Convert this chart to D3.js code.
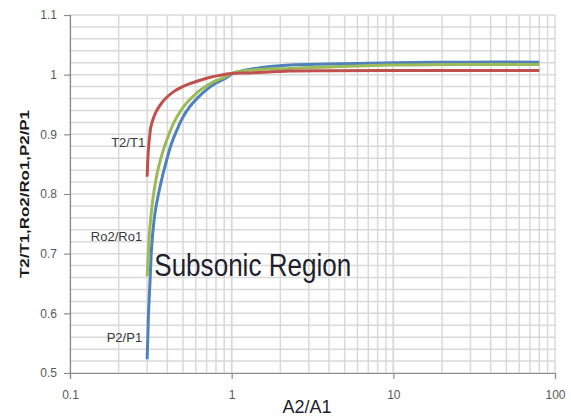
<!DOCTYPE html>
<html lang="en">
<head>
<meta charset="UTF-8">
<title>Subsonic Region</title>
<style>
  body { margin: 0; background: #fff; }
  text { font-family: "Liberation Sans Narrow", "Liberation Sans", sans-serif; }
</style>
</head>
<body>
<svg width="571" height="416"></svg>
<script src="https://cdn.jsdelivr.net/npm/d3@7"></script>
<script>

    // values (x = A2/A1, log scale)
    var t2t1X = [0.3, 0.305, 0.311, 0.316, 0.33, 0.344, 0.37, 0.4, 0.44, 0.48, 0.54, 0.61, 0.7, 0.81, 1, 1.3, 2.3, 4, 10, 30, 80];
    var t2t1Y = [0.829, 0.872, 0.897, 0.912, 0.929, 0.94, 0.953, 0.963, 0.972, 0.978, 0.984, 0.989, 0.994, 0.998, 1.002, 1.003, 1.006, 1.0065, 1.007, 1.007, 1.007];

    var ro2ro1X = [0.3, 0.305, 0.31, 0.314, 0.325, 0.336, 0.35, 0.378, 0.4, 0.436, 0.48, 0.528, 0.6, 0.67, 0.76, 0.89, 1.02, 1.3, 2.3, 4, 10, 30, 80];
    var ro2ro1Y = [0.662, 0.70, 0.735, 0.752, 0.79, 0.816, 0.841, 0.874, 0.893, 0.918, 0.938, 0.953, 0.968, 0.978, 0.987, 0.995, 1.003, 1.0076, 1.0105, 1.013, 1.016, 1.017, 1.017];

    var p2p1X = [0.3, 0.303, 0.306, 0.313, 0.32, 0.336, 0.361, 0.397, 0.425, 0.458, 0.5, 0.553, 0.62, 0.70, 0.8, 0.93, 1.02, 1.3, 2.3, 4, 10, 30, 80];
    var p2p1Y = [0.523, 0.56, 0.601, 0.657, 0.712, 0.769, 0.813, 0.858, 0.885, 0.907, 0.929, 0.947, 0.962, 0.975, 0.986, 0.995, 1.002, 1.009, 1.016, 1.0177, 1.02, 1.021, 1.021];

    var seriesNames = ["T2/T1", "Ro2/Ro1", "P2/P1"];
    var seriesColors = ["#c0504d", "#9bbb59", "#4f81bd"];

    var yTicks = [0.5, 0.6, 0.7, 0.8, 0.9, 1, 1.1];
    var xTicks = [0.1, 1, 10, 100];

    var margin = {top: 15, right: 16, bottom: 43, left: 70};

    var svg = d3.select("svg");
    var width = +svg.attr("width") - margin.left - margin.right;
    var height = +svg.attr("height") - margin.top - margin.bottom;

    var g = svg.append("g").attr("transform", "translate(" + margin.left + "," + margin.top + ")");

    var x = d3.scaleLog().domain([0.1, 100]).range([0, width]);
    var y = d3.scaleLinear().domain([0.5, 1.1]).range([height, 0]);

    // minor grid: 2..9 in every decade, every 0.02 vertically
    var xGrid = [];
    [0.1, 1, 10].forEach(function(d) {
        for (var k = 1; k <= 10; k++) xGrid.push(d * k);
    });
    var yGrid = d3.range(0, 31).map(function(i) { return 0.5 + i * 0.02; });

    g.selectAll(".vgrid")
        .data(xGrid)
        .enter().append("line")
        .attr("x1", function(d) { return x(d); })
        .attr("x2", function(d) { return x(d); })
        .attr("y1", 0).attr("y2", height)
        .attr("stroke", "#d9d9d9").attr("stroke-width", 1.5);

    g.selectAll(".hgrid")
        .data(yGrid)
        .enter().append("line")
        .attr("x1", 0).attr("x2", width)
        .attr("y1", function(d) { return y(d); })
        .attr("y2", function(d) { return y(d); })
        .attr("stroke", "#d9d9d9").attr("stroke-width", 1.5);

    // axes
    var xAxis = g.append("g")
        .attr("transform", "translate(0," + height + ")")
        .call(d3.axisBottom(x).tickValues(xTicks).tickFormat(d3.format("")).tickSizeOuter(0).tickSize(6).tickPadding(11));
    var yAxis = g.append("g")
        .call(d3.axisLeft(y).tickValues(yTicks).tickFormat(function(d) { return d3.format("")(d); }).tickSizeOuter(0).tickSize(6).tickPadding(7));

    [xAxis, yAxis].forEach(function(a) {
        a.select(".domain").attr("stroke", "#8c8c8c").attr("stroke-width", 1.2);
        a.selectAll(".tick line").attr("stroke", "#8c8c8c").attr("stroke-width", 1.2);
        a.selectAll(".tick text")
            .attr("fill", "#595959")
            .style("font-family", "'Liberation Sans Narrow', 'Liberation Sans', sans-serif")
            .style("font-size", "12px");
    });

    // curves
    var line = d3.line()
        .x(function(d) { return x(d[0]); })
        .y(function(d) { return y(d[1]); })
        .curve(d3.curveCatmullRom.alpha(0.5));

    var series = [
        d3.zip(t2t1X, t2t1Y),
        d3.zip(ro2ro1X, ro2ro1Y),
        d3.zip(p2p1X, p2p1Y)
    ];

    // draw blue first so red sits on top, like the picture
    [2, 1, 0].forEach(function(i) {
        g.append("path")
            .datum(series[i])
            .attr("d", line)
            .attr("fill", "none")
            .attr("stroke", seriesColors[i])
            .attr("stroke-width", 3)
            .attr("stroke-linejoin", "round");
    });

    // curve labels, next to where each curve starts
    var labelAt = [0.887, 0.729, 0.559];
    g.selectAll(".lbl")
        .data(seriesNames)
        .enter().append("text")
        .attr("x", function(d, i) { return x(0.3) - (i === 0 ? 2 : 5); })
        .attr("y", function(d, i) { return y(labelAt[i]); })
        .attr("dy", "0.35em")
        .attr("text-anchor", "end")
        .attr("fill", "#3a3a3a")
        .style("font-size", "13px")
        .text(function(d) { return d; });

    g.append("text")
        .attr("x", x(0.332))
        .attr("y", y(0.662))
        .attr("textLength", 197)
        .attr("lengthAdjust", "spacingAndGlyphs")
        .attr("fill", "#1f1f2e")
        .style("font-size", "32px")
        .text("Subsonic Region");

    // axis titles
    svg.append("text")
        .attr("x", 307)
        .attr("y", 413)
        .attr("text-anchor", "middle")
        .attr("fill", "#1f1f2e")
        .style("font-size", "18px")
        .text("A2/A1");

    svg.append("text")
        .attr("transform", "translate(29,194) rotate(-90)")
        .attr("text-anchor", "middle")
        .attr("textLength", 168)
        .attr("lengthAdjust", "spacingAndGlyphs")
        .attr("fill", "#1a1a1a")
        .style("font-size", "13px")
        .style("font-weight", "bold")
        .text("T2/T1,Ro2/Ro1,P2/P1");

</script>
</body>
</html>
